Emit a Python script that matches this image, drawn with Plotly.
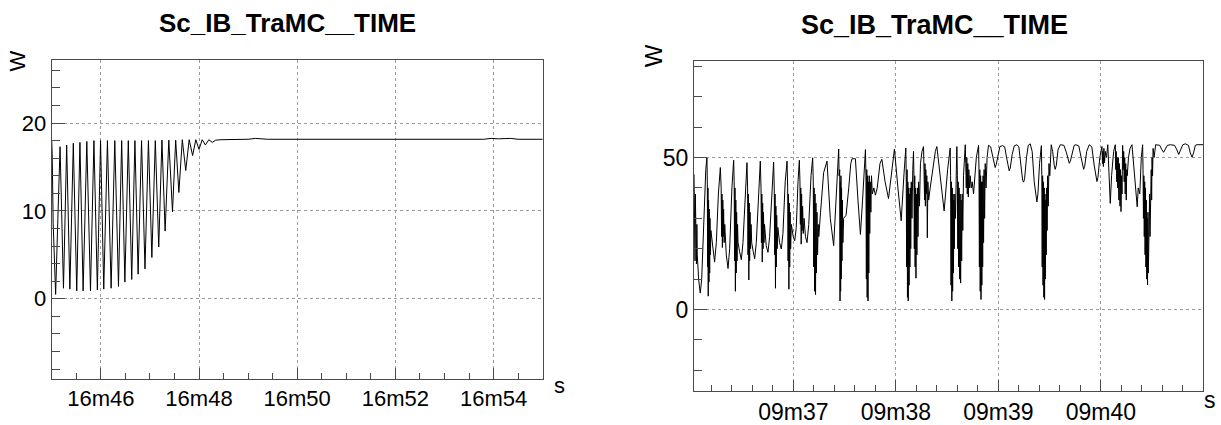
import plotly.graph_objects as go

# ---------------- data ----------------
chart_title = "Sc_IB_TraMC__TIME"
y_title = "W"
x_title = "s"

# left panel: time in seconds within minute 16 ; W values
left_tick_vals = [46, 48, 50, 52, 54]
left_tick_text = ["16m46", "16m48", "16m50", "16m52", "16m54"]
left_points = [
    (45.000, 18.0), (45.010, 16.5), (45.030, 8.6), (45.080, 0.5), (45.125, 9.0), (45.170, 17.3),
    (45.240, 1.2), (45.305, 17.5), (45.370, 1.1), (45.440, 17.7), (45.510, 0.9), (45.575, 17.8),
    (45.640, 0.9), (45.715, 17.9), (45.790, 0.9), (45.860, 18.0), (45.930, 1.0), (45.995, 18.0),
    (46.060, 1.1), (46.135, 18.0), (46.210, 1.2), (46.285, 18.0), (46.360, 1.4), (46.425, 18.0),
    (46.490, 1.9), (46.560, 18.0), (46.630, 2.2), (46.695, 18.0), (46.760, 2.8), (46.830, 18.0),
    (46.900, 3.4), (46.970, 18.0), (47.040, 4.7), (47.110, 18.0), (47.180, 5.9), (47.245, 18.05),
    (47.310, 7.7), (47.385, 18.05), (47.460, 9.9), (47.525, 18.05), (47.590, 12.1), (47.660, 18.1),
    (47.730, 14.6), (47.800, 18.1), (47.870, 16.3), (47.935, 18.1), (48.000, 17.0), (48.065, 18.1),
    (48.130, 17.5), (48.200, 18.1), (48.270, 17.8), (48.340, 18.05), (48.450, 18.1), (48.600, 18.1),
    (49.000, 18.15), (49.150, 18.25), (49.300, 18.2), (49.400, 18.15), (53.800, 18.15), (53.950, 18.25),
    (54.100, 18.2), (54.350, 18.25), (54.500, 18.15), (55.000, 18.15),
]

# right panel: time in seconds within minute 09 ; W values
right_tick_vals = [37, 38, 39, 40]
right_tick_text = ["09m37", "09m38", "09m39", "09m40"]
right_part_a = [
    (36.030, 44.5), (36.033, 22), (36.036, 40), (36.040, 16), (36.043, 38), (36.047, 20), (36.050, 34),
    (36.054, 15), (36.058, 28), (36.062, 18),
    (36.075, 10), (36.091, 5.4), (36.105, 10), (36.125, 30), (36.145, 46), (36.156, 49.9),
    (36.160, 42), (36.163, 14), (36.166, 40), (36.169, 4.4), (36.172, 36), (36.176, 9), (36.179, 33),
    (36.183, 12), (36.186, 30), (36.190, 18), (36.195, 26),
    (36.212, 20), (36.231, 15.6), (36.248, 22), (36.268, 38), (36.287, 46.7),
    (36.295, 40), (36.299, 24), (36.303, 38), (36.307, 20.4), (36.311, 36), (36.315, 24), (36.319, 33),
    (36.324, 22), (36.330, 28),
    (36.345, 18), (36.362, 13.5), (36.378, 20), (36.400, 40), (36.417, 49.1),
    (36.422, 42), (36.426, 16), (36.430, 40), (36.434, 6), (36.438, 36), (36.442, 12), (36.446, 32),
    (36.450, 16), (36.455, 28), (36.460, 22),
    (36.475, 19), (36.492, 16.4), (36.508, 22), (36.530, 40), (36.547, 48.3),
    (36.553, 40), (36.557, 18), (36.561, 38), (36.565, 9.7), (36.569, 35), (36.573, 16), (36.577, 32),
    (36.582, 20), (36.587, 28), (36.593, 22),
    (36.608, 19), (36.622, 16.7), (36.638, 22), (36.660, 40), (36.677, 48.8),
]
right_part_b = [
    (36.684, 40), (36.688, 22), (36.692, 38), (36.696, 15.6), (36.700, 35), (36.704, 20), (36.708, 32),
    (36.713, 22), (36.718, 28),
    (36.735, 21), (36.752, 18.8), (36.768, 24), (36.790, 41), (36.807, 48.5),
    (36.813, 40), (36.817, 18), (36.821, 38), (36.825, 7), (36.829, 34), (36.833, 14), (36.837, 31),
    (36.842, 20), (36.848, 27),
    (36.865, 22), (36.882, 19.9), (36.898, 25), (36.920, 42), (36.938, 48.8),
    (36.944, 40), (36.948, 16), (36.952, 38), (36.956, 6.7), (36.960, 35), (36.964, 14), (36.968, 32),
    (36.973, 20), (36.980, 28),
    (36.998, 24), (37.013, 22.6), (37.028, 27), (37.045, 42), (37.058, 49.1),
    (37.064, 42), (37.068, 28), (37.072, 40), (37.076, 21.5), (37.080, 38), (37.085, 26), (37.090, 34),
    (37.096, 25), (37.104, 30),
    (37.118, 24), (37.133, 22), (37.150, 28), (37.172, 44), (37.188, 49.9),
    (37.194, 42), (37.198, 14), (37.202, 40), (37.207, 6), (37.211, 38), (37.216, 4.9), (37.220, 35),
    (37.225, 12), (37.230, 32), (37.236, 18), (37.242, 28), (37.248, 24),
    (37.265, 32), (37.295, 45), (37.328, 48.8),
    (37.360, 30), (37.393, 21), (37.415, 34), (37.432, 48), (37.442, 52.8),
    (37.446, 44), (37.449, 12), (37.452, 46), (37.455, 2.8), (37.458, 42), (37.461, 6), (37.464, 44),
    (37.467, 10), (37.470, 40), (37.474, 16), (37.478, 36), (37.483, 22), (37.490, 30),
    (37.514, 31), (37.540, 40), (37.560, 48), (37.572, 49.6), (37.605, 49.6),
    (37.630, 36), (37.654, 24.7), (37.675, 36), (37.695, 50), (37.703, 52.6),
]
right_part_c = [
    (37.708, 44), (37.712, 10), (37.716, 46), (37.720, 4), (37.724, 44), (37.728, 2.8), (37.732, 42),
    (37.736, 12), (37.740, 44), (37.745, 25), (37.750, 42), (37.756, 32), (37.762, 44), (37.770, 38),
    (37.785, 40), (37.800, 37.6), (37.818, 40), (37.845, 48), (37.863, 49.4),
    (37.895, 42), (37.928, 36.5), (37.960, 45), (37.986, 52.8),
    (38.020, 40), (38.052, 29.2), (38.080, 45), (38.097, 53.1),
    (38.101, 44), (38.105, 14), (38.109, 46), (38.113, 4), (38.117, 42), (38.121, 2.8), (38.125, 40),
    (38.129, 8), (38.133, 38), (38.137, 14), (38.141, 40), (38.145, 20), (38.150, 42), (38.157, 30),
    (38.165, 46), (38.172, 52),
    (38.176, 44), (38.180, 20), (38.184, 44), (38.188, 14), (38.192, 40), (38.196, 10.3), (38.200, 38),
    (38.205, 18), (38.210, 40), (38.216, 24), (38.222, 42), (38.230, 34), (38.240, 48), (38.255, 52),
    (38.270, 53.6),
    (38.276, 44), (38.280, 36), (38.284, 48), (38.288, 34), (38.292, 46), (38.297, 38), (38.302, 44),
    (38.307, 23.6), (38.312, 42), (38.320, 36),
    (38.335, 40), (38.360, 46), (38.385, 52), (38.400, 53.6),
    (38.435, 44), (38.471, 32.4), (38.505, 46), (38.530, 53.1),
    (38.534, 44), (38.538, 8), (38.542, 42), (38.546, 2.8), (38.550, 40), (38.554, 6), (38.558, 38),
    (38.562, 12), (38.566, 36), (38.570, 20), (38.575, 38), (38.582, 30), (38.590, 46), (38.595, 53.6),
    (38.600, 44), (38.604, 20), (38.608, 42), (38.612, 14), (38.617, 40), (38.622, 10), (38.627, 38),
    (38.632, 8.7), (38.637, 36), (38.642, 16), (38.647, 38), (38.653, 26), (38.660, 44), (38.668, 50),
    (38.677, 54.2),
    (38.682, 48), (38.687, 40), (38.692, 50), (38.697, 38), (38.702, 48), (38.707, 37), (38.712, 46),
    (38.718, 40), (38.725, 44), (38.735, 40), (38.745, 42), (38.758, 38),
    (38.785, 50), (38.807, 54),
    (38.811, 46), (38.815, 14), (38.819, 46), (38.823, 6), (38.827, 44), (38.831, 3.3), (38.835, 42),
    (38.839, 8), (38.843, 42), (38.847, 14), (38.851, 44), (38.856, 22), (38.861, 46), (38.866, 30),
    (38.872, 48), (38.880, 40), (38.890, 50), (38.904, 54),
]
right_part_d = [
    (38.925, 53.5), (38.945, 50), (38.960, 47.3), (38.969, 46.7), (38.980, 47.8), (38.998, 51.5),
    (39.015, 53.6), (39.041, 53.9), (39.062, 53.5), (39.080, 50), (39.097, 46.3), (39.106, 45.6),
    (39.116, 46.5), (39.135, 51), (39.155, 53.8), (39.181, 54.2), (39.200, 53.5), (39.220, 47),
    (39.237, 42.5), (39.246, 41.9), (39.256, 43), (39.275, 50), (39.292, 54), (39.311, 54.5),
    (39.330, 52), (39.350, 42), (39.368, 36), (39.376, 35.4), (39.386, 38), (39.402, 48), (39.420, 53.9),
    (39.424, 44), (39.428, 14), (39.432, 44), (39.436, 8), (39.440, 42), (39.444, 4), (39.448, 40),
    (39.451, 3.3), (39.455, 38), (39.459, 10), (39.463, 36), (39.467, 18), (39.471, 40), (39.476, 26),
    (39.481, 44), (39.487, 34), (39.494, 48), (39.502, 44), (39.516, 54.2),
    (39.530, 52), (39.545, 47.5), (39.555, 46.1), (39.566, 47.5), (39.582, 52.5), (39.604, 54.2),
    (39.640, 54), (39.665, 51.5), (39.682, 48.6), (39.692, 48.1), (39.703, 48.8), (39.722, 52),
    (39.740, 54), (39.757, 54.2), (39.785, 53.8), (39.808, 50), (39.824, 46.6), (39.832, 46.1),
    (39.842, 47), (39.862, 52), (39.887, 54.2), (39.912, 53.5), (39.935, 47.5), (39.954, 42.6),
    (39.962, 42.1), (39.972, 43.5), (39.990, 50), (40.011, 53.6),
    (40.016, 48), (40.020, 52), (40.025, 47), (40.030, 53), (40.036, 48.3), (40.044, 52), (40.055, 50),
    (40.068, 54.2),
    (40.080, 44), (40.092, 34.9), (40.105, 44), (40.125, 52), (40.141, 54.2),
    (40.146, 46), (40.150, 52), (40.155, 42), (40.160, 50), (40.165, 40), (40.170, 50), (40.176, 36),
    (40.181, 48), (40.187, 34), (40.192, 46), (40.197, 32.2), (40.202, 44), (40.207, 38), (40.213, 54),
    (40.218, 46), (40.223, 52), (40.228, 42), (40.233, 50), (40.238, 38), (40.243, 48), (40.248, 36),
    (40.253, 46), (40.258, 44), (40.270, 50), (40.285, 53), (40.304, 54.2),
    (40.330, 44), (40.345, 36), (40.355, 33.8), (40.365, 40), (40.380, 38), (40.395, 50), (40.408, 54.2),
    (40.412, 46), (40.416, 30), (40.420, 44), (40.424, 24), (40.428, 42), (40.432, 18), (40.436, 40),
    (40.440, 14), (40.444, 36), (40.448, 10), (40.452, 30), (40.456, 8.1), (40.460, 32), (40.464, 12),
    (40.468, 34), (40.472, 18), (40.476, 38), (40.480, 24), (40.484, 42), (40.488, 28), (40.492, 46),
    (40.496, 36), (40.500, 50), (40.505, 44), (40.510, 53), (40.520, 50), (40.535, 54.2), (40.548, 54.2),
    (40.575, 54), (40.595, 52.6), (40.613, 51.7), (40.630, 52.8), (40.650, 54), (40.678, 54.2),
    (40.720, 54), (40.742, 52.5), (40.760, 51), (40.778, 52.5), (40.800, 54.2), (40.825, 54.5),
    (40.855, 54), (40.873, 51.5), (40.890, 50.1), (40.905, 51.5), (40.922, 54), (40.939, 54.2),
    (40.988, 54.2), (41.000, 54.2),
]

# ---------------- figure ----------------
FW, FH = 1221, 425
FONT = "Liberation Sans, Arial, Helvetica, sans-serif"
FRAME = "#4a4a4a"
GRID = "#9a9a9a"

right_points = right_part_a + right_part_b + right_part_c + right_part_d

fig = go.Figure()
fig.add_trace(go.Scatter(
    x=[p[0] for p in left_points], y=[p[1] for p in left_points],
    mode="lines", line=dict(color="black", width=1), xaxis="x", yaxis="y",
    hoverinfo="skip"))
fig.add_trace(go.Scatter(
    x=[p[0] for p in right_points], y=[p[1] for p in right_points],
    mode="lines", line=dict(color="black", width=1), xaxis="x2", yaxis="y2",
    hoverinfo="skip"))


def xaxis_cfg(domain, rng, vals, text, anchor, mtick0, mdtick, fsize):
    return dict(
        domain=domain, range=rng, anchor=anchor,
        tickmode="array", tickvals=vals, ticktext=text,
        ticks="inside", ticklen=11, tickwidth=1, tickcolor=FRAME,
        showline=True, linecolor=FRAME, linewidth=1, mirror=True,
        showgrid=True, gridcolor=GRID, griddash="dot", gridwidth=1,
        zeroline=False, tickfont=dict(family=FONT, size=fsize, color="black"),
        minor=dict(tickmode="linear", tick0=mtick0, dtick=mdtick, ticks="inside",
                   ticklen=6, tickwidth=1, tickcolor=FRAME, showgrid=False),
        fixedrange=True,
    )


def yaxis_cfg(domain, rng, dtick, mdtick, anchor, fsize):
    return dict(
        domain=domain, range=rng, anchor=anchor,
        tickmode="linear", tick0=0, dtick=dtick,
        ticks="inside", ticklen=13, tickwidth=1, tickcolor=FRAME,
        showline=True, linecolor=FRAME, linewidth=1, mirror=True,
        showgrid=True, gridcolor=GRID, griddash="dot", gridwidth=1,
        zeroline=False, tickfont=dict(family=FONT, size=fsize, color="black"),
        minor=dict(tickmode="linear", tick0=0, dtick=mdtick, ticks="inside",
                   ticklen=8, tickwidth=1, tickcolor=FRAME, showgrid=False),
        fixedrange=True,
    )


fig.update_layout(
    width=FW, height=FH,
    margin=dict(l=0, r=0, t=0, b=0),
    paper_bgcolor="white", plot_bgcolor="white",
    showlegend=False,
    font=dict(family=FONT, color="black"),
    xaxis=xaxis_cfg([51.7 / FW, 542.7 / FW], [45.0, 55.0], left_tick_vals, left_tick_text,
                    "y", 45.0, 0.5, 22),
    yaxis=yaxis_cfg([37.3 / FH, 364.0 / FH], [-9.08, 27.22], 10, 2, "x", 22),
    xaxis2=xaxis_cfg([694.0 / FW, 1203.3 / FW], [36.03, 41.0], right_tick_vals, right_tick_text,
                     "y2", 36.0, 0.2, 23),
    yaxis2=yaxis_cfg([24.3 / FH, 362.3 / FH], [-26.88, 81.66], 50, 10, "x2", 23),
)

annotations = [
    dict(text="<b>" + chart_title + "</b>", x=287.5 / FW, y=(FH - 24) / FH, xref="paper", yref="paper",
         xanchor="center", yanchor="middle", showarrow=False, font=dict(family=FONT, size=26, color="black")),
    dict(text="<b>" + chart_title + "</b>", x=934 / FW, y=(FH - 26) / FH, xref="paper", yref="paper",
         xanchor="center", yanchor="middle", showarrow=False, font=dict(family=FONT, size=27, color="black")),
    dict(text=y_title, x=17.5 / FW, y=(FH - 62.5) / FH, xref="paper", yref="paper", textangle=-90,
         xanchor="center", yanchor="middle", showarrow=False, font=dict(family=FONT, size=22, color="black")),
    dict(text=y_title, x=653 / FW, y=(FH - 57.5) / FH, xref="paper", yref="paper", textangle=-90,
         xanchor="center", yanchor="middle", showarrow=False, font=dict(family=FONT, size=24, color="black")),
    dict(text=x_title, x=559 / FW, y=(FH - 395) / FH, xref="paper", yref="paper",
         xanchor="center", yanchor="middle", showarrow=False, font=dict(family=FONT, size=22, color="black")),
    dict(text=x_title, x=1210 / FW, y=(FH - 410) / FH, xref="paper", yref="paper",
         xanchor="center", yanchor="middle", showarrow=False, font=dict(family=FONT, size=23, color="black")),
]
fig.update_layout(annotations=annotations)

fig.write_html(
    "out.html",
    config=dict(staticPlot=True),
    post_script="document.body.style.margin='0';document.body.style.padding='0';"
                "document.body.style.overflow='hidden';",
)
